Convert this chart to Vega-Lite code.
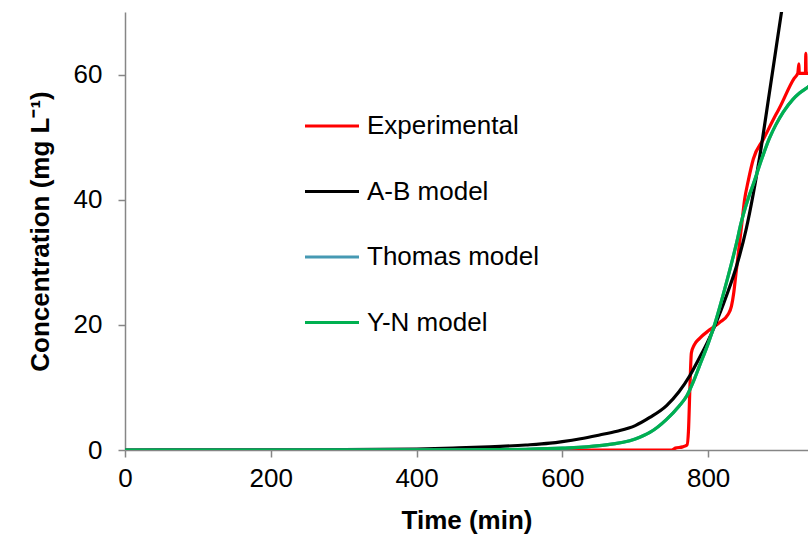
{
  "$schema": "https://vega.github.io/schema/vega-lite/v6.json",
  "width": 683,
  "height": 438,
  "padding": {"left": 125, "top": 12, "right": 0, "bottom": 91},
  "autosize": {"type": "none"},
  "background": "white",
  "config": {
    "view": {"stroke": null},
    "font": "Liberation Sans"
  },
  "datasets": {
    "curves": [
      {"t": 0, "c": 0, "s": "Experimental"},
      {"t": 650, "c": 0, "s": "Experimental"},
      {"t": 750, "c": 0, "s": "Experimental"},
      {"t": 755, "c": 0.3, "s": "Experimental"},
      {"t": 765, "c": 0.5, "s": "Experimental"},
      {"t": 771, "c": 0.8, "s": "Experimental"},
      {"t": 773, "c": 3, "s": "Experimental"},
      {"t": 775, "c": 10, "s": "Experimental"},
      {"t": 777, "c": 15.5, "s": "Experimental"},
      {"t": 781, "c": 16.8, "s": "Experimental"},
      {"t": 788, "c": 17.8, "s": "Experimental"},
      {"t": 802, "c": 19.2, "s": "Experimental"},
      {"t": 816, "c": 20.4, "s": "Experimental"},
      {"t": 827, "c": 21.6, "s": "Experimental"},
      {"t": 832, "c": 23, "s": "Experimental"},
      {"t": 835, "c": 25, "s": "Experimental"},
      {"t": 838, "c": 28, "s": "Experimental"},
      {"t": 842, "c": 32, "s": "Experimental"},
      {"t": 846, "c": 36, "s": "Experimental"},
      {"t": 850, "c": 40, "s": "Experimental"},
      {"t": 855, "c": 43, "s": "Experimental"},
      {"t": 862, "c": 46.5, "s": "Experimental"},
      {"t": 876, "c": 49.7, "s": "Experimental"},
      {"t": 893, "c": 53.6, "s": "Experimental"},
      {"t": 898, "c": 54.7, "s": "Experimental"},
      {"t": 918, "c": 59.4, "s": "Experimental"},
      {"t": 923, "c": 60.2, "s": "Experimental"},
      {"t": 924.5, "c": 61.7, "s": "Experimental"},
      {"t": 925, "c": 60.2, "s": "Experimental"},
      {"t": 933.5, "c": 60.2, "s": "Experimental"},
      {"t": 934, "c": 63.4, "s": "Experimental"},
      {"t": 934.5, "c": 60.2, "s": "Experimental"},
      {"t": 945, "c": 60.2, "s": "Experimental"},

      {"t": 0, "c": 0, "s": "A-B model"},
      {"t": 100, "c": 0.01, "s": "A-B model"},
      {"t": 200, "c": 0.02, "s": "A-B model"},
      {"t": 300, "c": 0.05, "s": "A-B model"},
      {"t": 350, "c": 0.09, "s": "A-B model"},
      {"t": 400, "c": 0.15, "s": "A-B model"},
      {"t": 450, "c": 0.3, "s": "A-B model"},
      {"t": 500, "c": 0.5, "s": "A-B model"},
      {"t": 550, "c": 0.8, "s": "A-B model"},
      {"t": 583, "c": 1.1, "s": "A-B model"},
      {"t": 600, "c": 1.35, "s": "A-B model"},
      {"t": 625, "c": 1.8, "s": "A-B model"},
      {"t": 651, "c": 2.4, "s": "A-B model"},
      {"t": 675, "c": 3.0, "s": "A-B model"},
      {"t": 700, "c": 3.9, "s": "A-B model"},
      {"t": 720, "c": 5.2, "s": "A-B model"},
      {"t": 743, "c": 7.1, "s": "A-B model"},
      {"t": 760, "c": 9.3, "s": "A-B model"},
      {"t": 775, "c": 11.9, "s": "A-B model"},
      {"t": 787, "c": 14.5, "s": "A-B model"},
      {"t": 799, "c": 17.2, "s": "A-B model"},
      {"t": 809, "c": 19.8, "s": "A-B model"},
      {"t": 825, "c": 24.6, "s": "A-B model"},
      {"t": 839, "c": 29.4, "s": "A-B model"},
      {"t": 852, "c": 35.2, "s": "A-B model"},
      {"t": 862, "c": 41, "s": "A-B model"},
      {"t": 873, "c": 48.5, "s": "A-B model"},
      {"t": 882, "c": 55.5, "s": "A-B model"},
      {"t": 891, "c": 62.5, "s": "A-B model"},
      {"t": 900, "c": 69.5, "s": "A-B model"},
      {"t": 910, "c": 77, "s": "A-B model"},

      {"t": 0, "c": 0, "s": "Thomas model"},
      {"t": 400, "c": 0.01, "s": "Thomas model"},
      {"t": 500, "c": 0.05, "s": "Thomas model"},
      {"t": 550, "c": 0.12, "s": "Thomas model"},
      {"t": 600, "c": 0.3, "s": "Thomas model"},
      {"t": 651, "c": 0.7, "s": "Thomas model"},
      {"t": 700, "c": 1.75, "s": "Thomas model"},
      {"t": 720, "c": 2.8, "s": "Thomas model"},
      {"t": 743, "c": 4.9, "s": "Thomas model"},
      {"t": 760, "c": 7, "s": "Thomas model"},
      {"t": 771, "c": 8.7, "s": "Thomas model"},
      {"t": 780, "c": 11, "s": "Thomas model"},
      {"t": 788, "c": 13.4, "s": "Thomas model"},
      {"t": 800, "c": 17, "s": "Thomas model"},
      {"t": 809, "c": 20.1, "s": "Thomas model"},
      {"t": 825, "c": 26.7, "s": "Thomas model"},
      {"t": 839, "c": 33.1, "s": "Thomas model"},
      {"t": 845, "c": 36.2, "s": "Thomas model"},
      {"t": 855, "c": 40.2, "s": "Thomas model"},
      {"t": 862, "c": 42.5, "s": "Thomas model"},
      {"t": 875, "c": 47, "s": "Thomas model"},
      {"t": 884, "c": 49.8, "s": "Thomas model"},
      {"t": 893, "c": 52, "s": "Thomas model"},
      {"t": 903, "c": 54, "s": "Thomas model"},
      {"t": 916, "c": 56, "s": "Thomas model"},
      {"t": 925, "c": 57, "s": "Thomas model"},
      {"t": 937, "c": 58, "s": "Thomas model"},
      {"t": 945, "c": 58.7, "s": "Thomas model"},

      {"t": 0, "c": 0, "s": "Y-N model"},
      {"t": 400, "c": 0.01, "s": "Y-N model"},
      {"t": 500, "c": 0.05, "s": "Y-N model"},
      {"t": 550, "c": 0.12, "s": "Y-N model"},
      {"t": 600, "c": 0.3, "s": "Y-N model"},
      {"t": 651, "c": 0.7, "s": "Y-N model"},
      {"t": 700, "c": 1.75, "s": "Y-N model"},
      {"t": 720, "c": 2.8, "s": "Y-N model"},
      {"t": 743, "c": 4.9, "s": "Y-N model"},
      {"t": 760, "c": 7, "s": "Y-N model"},
      {"t": 771, "c": 8.7, "s": "Y-N model"},
      {"t": 780, "c": 11, "s": "Y-N model"},
      {"t": 788, "c": 13.4, "s": "Y-N model"},
      {"t": 800, "c": 17, "s": "Y-N model"},
      {"t": 809, "c": 20.1, "s": "Y-N model"},
      {"t": 825, "c": 26.7, "s": "Y-N model"},
      {"t": 839, "c": 33.1, "s": "Y-N model"},
      {"t": 845, "c": 36.2, "s": "Y-N model"},
      {"t": 855, "c": 40.2, "s": "Y-N model"},
      {"t": 862, "c": 42.5, "s": "Y-N model"},
      {"t": 875, "c": 47, "s": "Y-N model"},
      {"t": 884, "c": 49.8, "s": "Y-N model"},
      {"t": 893, "c": 52, "s": "Y-N model"},
      {"t": 903, "c": 54, "s": "Y-N model"},
      {"t": 916, "c": 56, "s": "Y-N model"},
      {"t": 925, "c": 57, "s": "Y-N model"},
      {"t": 937, "c": 58, "s": "Y-N model"},
      {"t": 945, "c": 58.7, "s": "Y-N model"}
    ]
  },
  "data": {"name": "curves"},
  "mark": {"type": "line", "strokeWidth": 3.2, "clip": true, "interpolate": "monotone"},
  "encoding": {
    "x": {
      "field": "t",
      "type": "quantitative",
      "scale": {"domain": [0, 937], "nice": false, "zero": false},
      "axis": {
        "title": "Time (min)",
        "values": [0, 200, 400, 600, 800],
        "grid": false,
        "labelFlush": false,
        "domainColor": "#868686",
        "tickColor": "#868686",
        "domainWidth": 1.5,
        "tickWidth": 1.5,
        "tickSize": 7,
        "labelFontSize": 26,
        "labelColor": "#000000",
        "labelPadding": 8,
        "labelFont": "Liberation Sans",
        "titleFont": "Liberation Sans",
        "titleFontSize": 26,
        "titleFontWeight": "bold",
        "titleColor": "#000000",
        "titlePadding": 16
      }
    },
    "y": {
      "field": "c",
      "type": "quantitative",
      "scale": {"domain": [0, 70], "nice": false},
      "axis": {
        "title": "Concentration (mg L⁻¹)",
        "values": [0, 20, 40, 60],
        "grid": false,
        "labelFlush": false,
        "domainColor": "#868686",
        "tickColor": "#868686",
        "domainWidth": 1.5,
        "tickWidth": 1.5,
        "tickSize": 7,
        "labelFontSize": 26,
        "labelColor": "#000000",
        "labelPadding": 16,
        "labelFont": "Liberation Sans",
        "titleFont": "Liberation Sans",
        "titleFontSize": 26,
        "titleFontWeight": "bold",
        "titleColor": "#000000",
        "titlePadding": 20
      }
    },
    "color": {
      "field": "s",
      "type": "nominal",
      "scale": {
        "domain": ["Experimental", "A-B model", "Thomas model", "Y-N model"],
        "range": ["#FF0000", "#000000", "#4699B3", "#00B050"]
      },
      "legend": {
        "title": null,
        "orient": "none",
        "legendX": 178,
        "legendY": 85,
        "symbolType": "stroke",
        "symbolSize": 2916,
        "symbolStrokeWidth": 3.2,
        "rowPadding": 23.5,
        "labelOffset": 6,
        "labelLimit": 400,
        "labelFontSize": 26,
        "labelFont": "Liberation Sans",
        "labelColor": "#000000",
        "padding": 0
      }
    }
  }
}
